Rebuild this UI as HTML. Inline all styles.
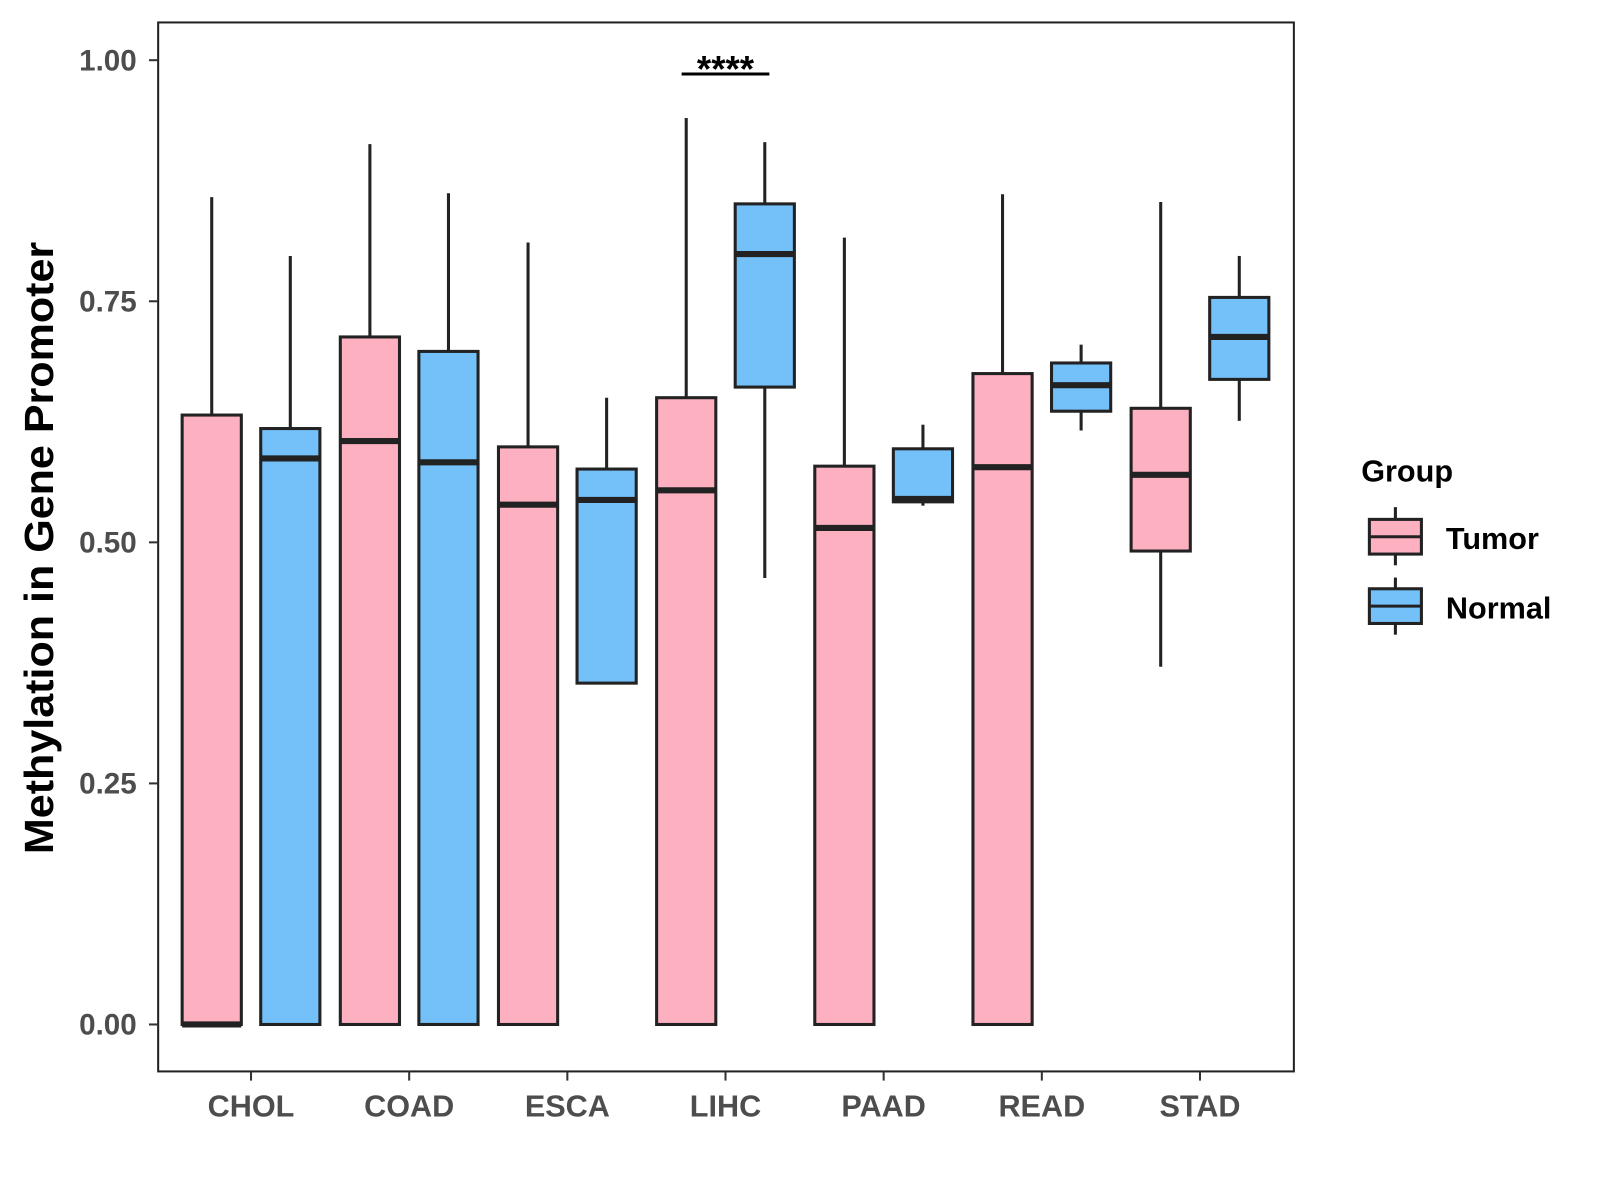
<!DOCTYPE html>
<html><head><meta charset="utf-8"><style>
html,body{margin:0;padding:0;background:#fff;}
svg{display:block;font-family:"Liberation Sans",Arial,sans-serif;}
</style></head><body>
<svg id="chart" width="1600" height="1200" viewBox="0 0 1600 1200">
<g transform="scale(1.0204)">
<rect x="155" y="22" width="1113" height="1028" fill="#fff" stroke="#222" stroke-width="2"/>
<g id="yaxis"></g>
<g id="xaxis"></g>
<g id="boxes"></g>
<text x="38" y="537" dy="14" transform="rotate(-90 38 537)" text-anchor="middle" font-size="40" font-weight="bold" fill="#000" textLength="600" lengthAdjust="spacingAndGlyphs">Methylation in Gene Promoter</text>
<g>
<line x1="668" y1="72.5" x2="754" y2="72.5" stroke="#000" stroke-width="3"/>
<text x="711" y="80" text-anchor="middle" font-size="36" font-weight="bold" fill="#000">****</text>
</g>
<g>
<text x="1334" y="472" font-size="30" font-weight="bold" fill="#000">Group</text>
<g>
<line x1="1367.5" y1="497" x2="1367.5" y2="554" stroke="#222" stroke-width="3"/>
<rect x="1342" y="509" width="51" height="34" fill="#FDB0C0" stroke="#222" stroke-width="3"/>
<line x1="1342" y1="526" x2="1393" y2="526" stroke="#222" stroke-width="3"/>
<text x="1417" y="538" font-size="30" font-weight="bold" fill="#000">Tumor</text>
</g>
<g>
<line x1="1367.5" y1="566" x2="1367.5" y2="622" stroke="#222" stroke-width="3"/>
<rect x="1342" y="577" width="51" height="34" fill="#74C0F8" stroke="#222" stroke-width="3"/>
<line x1="1342" y1="594" x2="1393" y2="594" stroke="#222" stroke-width="3"/>
<text x="1417" y="606" font-size="30" font-weight="bold" fill="#000">Normal</text>
</g>
</g>
</g>
</svg>
<script>
const categories = ["CHOL","COAD","ESCA","LIHC","PAAD","READ","STAD"];
const yTicks = [0, 0.25, 0.5, 0.75, 1.0];
const yTickLabels = ["0.00","0.25","0.50","0.75","1.00"];
// [lowerWhisker, Q1, median, Q3, upperWhisker]
const tumorStats = [
  [0, 0, 0.0, 0.632, 0.858],
  [0, 0, 0.605, 0.713, 0.913],
  [0, 0, 0.539, 0.599, 0.811],
  [0, 0, 0.554, 0.650, 0.940],
  [0, 0, 0.515, 0.579, 0.816],
  [0, 0, 0.578, 0.675, 0.861],
  [0.371, 0.491, 0.570, 0.639, 0.853]
];
const normalStats = [
  [0, 0, 0.587, 0.618, 0.797],
  [0, 0, 0.583, 0.698, 0.862],
  [0.354, 0.354, 0.544, 0.576, 0.650],
  [0.463, 0.661, 0.799, 0.851, 0.915],
  [0.538, 0.542, 0.545, 0.597, 0.622],
  [0.616, 0.636, 0.663, 0.686, 0.705],
  [0.626, 0.669, 0.713, 0.754, 0.797]
];
const NS = "http://www.w3.org/2000/svg";
const y = v => 1004 - v * 945;
const x = i => 246 + i * 155;
function mk(tag, attrs, parent) {
  const e = document.createElementNS(NS, tag);
  for (const k in attrs) e.setAttribute(k, attrs[k]);
  parent.appendChild(e);
  return e;
}
const yaxis = document.getElementById("yaxis");
yTicks.forEach((v, i) => {
  const t = mk("line", {x1: 146, x2: 155, y1: y(v), y2: y(v), stroke: "#333", "stroke-width": 2}, yaxis);
  
  
  const l = mk("text", {x: 134, y: y(v) + 10, "text-anchor": "end", "font-size": 29, "font-weight": "bold", fill: "#4d4d4d"}, yaxis);
  l.textContent = yTickLabels[i];
  
  
});
const xaxis = document.getElementById("xaxis");
categories.forEach((c, i) => {
  const t = mk("line", {x1: x(i), x2: x(i), y1: 1050, y2: 1059, stroke: "#333", "stroke-width": 2}, xaxis);
  
  
  const l = mk("text", {x: x(i), y: 1094, "text-anchor": "middle", "font-size": 30, "font-weight": "bold", fill: "#4d4d4d"}, xaxis);
  l.textContent = c;
  
  
});
const boxes = document.getElementById("boxes");
function drawBox(s, cx, fill, name) {
  const g = mk("g", {}, boxes);
  
  
  const [lo, q1, med, q3, hi] = s;
  const hw = 29;
  mk("line", {x1: cx, x2: cx, y1: y(hi), y2: y(q3), stroke: "#222", "stroke-width": 3}, g);
  mk("line", {x1: cx, x2: cx, y1: y(q1), y2: y(lo), stroke: "#222", "stroke-width": 3}, g);
  mk("rect", {x: cx - hw, y: y(q3), width: hw * 2, height: Math.max(y(q1) - y(q3), 0.5), fill: fill, stroke: "#222", "stroke-width": 3}, g);
  mk("line", {x1: cx - hw, x2: cx + hw, y1: y(med), y2: y(med), stroke: "#222", "stroke-width": 6}, g);
}
categories.forEach((c, i) => {
  drawBox(tumorStats[i], x(i) - 38.5, "#FDB0C0", "box-tumor-" + c.toLowerCase());
  drawBox(normalStats[i], x(i) + 38.5, "#74C0F8", "box-normal-" + c.toLowerCase());
});
</script>
</body></html>
